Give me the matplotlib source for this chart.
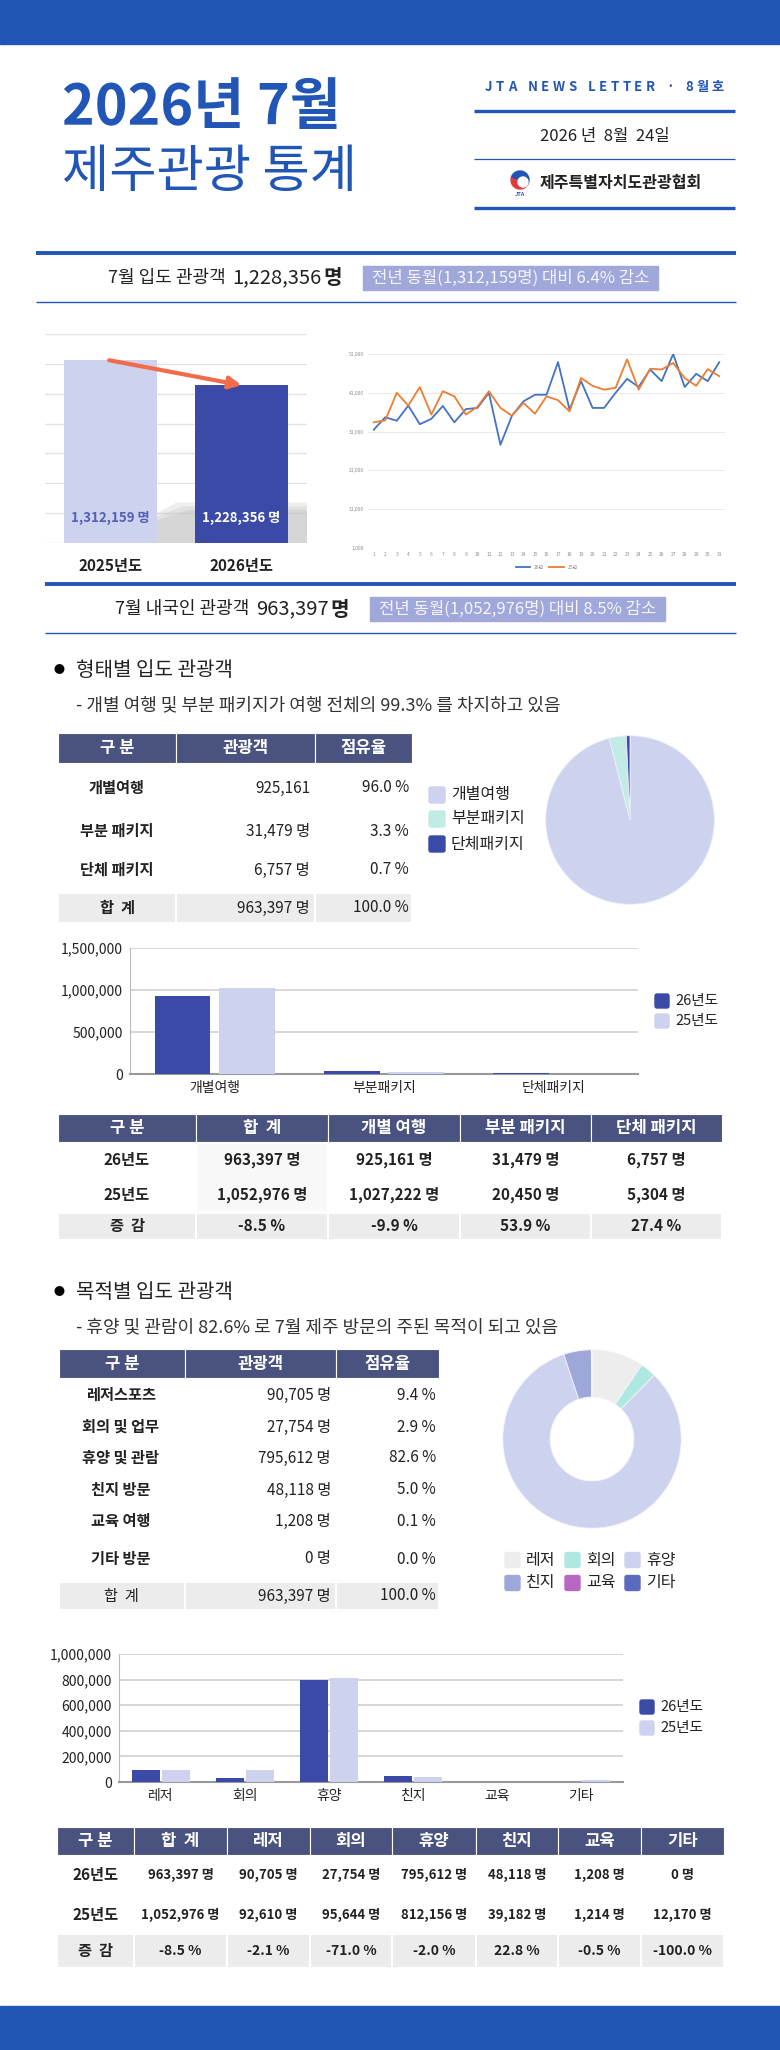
import matplotlib.pyplot as plt
from matplotlib.patches import Rectangle, FancyBboxPatch, Wedge, Polygon
from matplotlib.ticker import FuncFormatter

plt.rcParams['font.family'] = ['Noto Sans CJK KR', 'DejaVu Sans']

# 데이터
years = ['2025년도', '2026년도']
arrivals = [1312159, 1228356]

days = list(range(1, 32))
daily_26 = [31500, 34700, 33800, 37700, 32900, 34300, 37600, 33400, 36800, 37100,
            41000, 27600, 35100, 38800, 40500, 40500, 48900, 36700, 44000, 37100,
            37100, 41000, 44600, 42500, 47000, 44000, 51000, 42500, 45900, 44000, 48900]
daily_25 = [33400, 33900, 41000, 37700, 42500, 35400, 41400, 40100, 35400, 37400,
            41400, 37100, 35100, 38400, 35600, 40100, 39100, 36200, 44800, 42800,
            41800, 42300, 49600, 41800, 47200, 47000, 48700, 44800, 42800, 47100, 45300]

domestic_26 = 963397
domestic_25 = 1052976

type_short = ['개별여행', '부분패키지', '단체패키지']
type_rows = ['개별여행', '부분 패키지', '단체 패키지']
type_heads = ['개별 여행', '부분 패키지', '단체 패키지']
type_26 = [925161, 31479, 6757]
type_25 = [1027222, 20450, 5304]

purpose_short = ['레저', '회의', '휴양', '친지', '교육', '기타']
purpose_rows = ['레저스포츠', '회의 및 업무', '휴양 및 관람', '친지 방문', '교육 여행', '기타 방문']
purpose_26 = [90705, 27754, 795612, 48118, 1208, 0]
purpose_25 = [92610, 95644, 812156, 39182, 1214, 12170]

# 색상
BLUE = '#2155b6'
NAVY = '#3a4aa6'
LAV = '#cdd2ef'
HEAD = '#4a5280'
ROWBG = '#ececec'
HILITE = '#a0a8da'
TXT = '#222222'
W, H = 780, 2050

fig = plt.figure(figsize=(7.8, 20.5), dpi=100)
bg = fig.add_axes([0, 0, 1, 1])
bg.set_xlim(0, W)
bg.set_ylim(H, 0)
bg.axis('off')
renderer = fig.canvas.get_renderer()


def px_axes(x0, y0, w, h):
    ax = fig.add_axes([x0 / W, 1 - (y0 + h) / H, w / W, h / H])
    ax.patch.set_alpha(0)
    return ax


def hline(x0, x1, y, lw, color=BLUE):
    bg.plot([x0, x1], [y, y], color=color, lw=lw, solid_capstyle='butt')


def text_width(t):
    e = t.get_window_extent(renderer=renderer)
    return e.x1 - e.x0


def text_right_end(t):
    # 텍스트 오른쪽 끝 (픽셀 = 데이터 단위)
    return t.get_window_extent(renderer=renderer).x1


# 상단 / 하단 띠
bg.add_patch(Rectangle((0, 0), W, 44, color=BLUE))
bg.add_patch(Rectangle((0, 2006), W, 44, color=BLUE))

# 제목
bg.text(62, 108, '2026년 7월', fontsize=40, fontweight='heavy', color=BLUE, va='center')
bg.text(62, 172, '제주관광 통계', fontsize=37, fontweight='light', color=BLUE, va='center')

# 뉴스레터 표기 (자간 넓게, 485~724 px)
nl = 'JTA NEWS LETTER · 8월호'
chars = [bg.text(0, 87, ch, fontsize=9.5, fontweight='bold', color=BLUE, va='center')
         for ch in nl]
widths = [text_width(t) if ch != ' ' else 4 for t, ch in zip(chars, nl)]
track = (724 - 485 - sum(widths)) / (len(nl) - 1)
x = 485
for t, w in zip(chars, widths):
    t.set_x(x)
    x += w + track
hline(474, 735, 111, 2.4)
bg.text(605, 136, '2026 년  8월  24일', fontsize=12, color=TXT, ha='center', va='center')
hline(474, 735, 159, 0.9)
# 로고
bg.add_patch(Wedge((520, 180), 9, 20, 200, color='#e03a3e'))
bg.add_patch(Wedge((520, 180), 9, 200, 380, color=BLUE))
bg.add_patch(Wedge((523, 182), 5, 0, 360, color='white'))
bg.text(520, 194, 'JTA', fontsize=4, fontweight='bold', style='italic', color=BLUE, ha='center', va='center')
bg.text(540, 183, '제주특별자치도관광협회', fontsize=11.5, fontweight='bold', color=TXT, va='center')
hline(474, 735, 208, 2.4)


def summary(y, x0, label, number, note, box_x0, box_x1, line_x0):
    hline(line_x0, 736, y - 25, 2.8)
    hline(line_x0, 736, y + 24, 1.0)
    t = bg.text(x0, y, label, fontsize=13, color=TXT, va='center')
    t = bg.text(text_right_end(t) + 7, y, f'{number:,}', fontsize=14.5, color=TXT, va='center')
    bg.text(text_right_end(t) + 1, y, '명', fontsize=14.5, fontweight='bold', color=TXT, va='center')
    bg.add_patch(Rectangle((box_x0, y - 12), box_x1 - box_x0, 24, color=HILITE))
    bg.text((box_x0 + box_x1) / 2, y, note, fontsize=12, color='#f4f5ff', ha='center', va='center')


change1 = (arrivals[1] / arrivals[0] - 1) * 100
summary(278, 108, '7월 입도 관광객', arrivals[1],
        f'전년 동월({arrivals[0]:,}명) 대비 {abs(change1):.1f}% 감소', 363, 658, 36)
change2 = (domestic_26 / domestic_25 - 1) * 100
summary(609, 115, '7월 내국인 관광객', domestic_26,
        f'전년 동월({domestic_25:,}명) 대비 {abs(change2):.1f}% 감소', 370, 665, 45)

# 연도별 입도 관광객 막대
ax = px_axes(45, 334, 262, 209)
ax.bar([0, 1], arrivals, width=0.71, color=[LAV, NAVY], zorder=3)
for k, a in enumerate([0.25, 0.25, 0.3]):
    ax.add_patch(Polygon([(0.355, 700000), (0.355, 800000 - k * 12000), (0.5 + k * 0.05, 835000 - k * 12000),
                          (1.5, 835000 - k * 12000), (1.5, 700000)],
                         closed=True, color='#bdbdbd', alpha=a, lw=0, zorder=2))
ax.set_ylim(700000, 1400000)
ax.set_xlim(-0.5, 1.5)
ax.set_yticks(range(700000, 1400001, 100000))
ax.yaxis.grid(True, color='#e3e3e3', lw=1, zorder=0)
ax.tick_params(left=False, labelleft=False, bottom=False)
ax.set_xticks([0, 1])
ax.set_xticklabels(years, fontsize=11, fontweight='bold', color=TXT)
ax.tick_params(axis='x', pad=7)
for s in ax.spines.values():
    s.set_visible(False)
for i, v in enumerate(arrivals):
    ax.text(i, 785000, f'{v:,} 명', ha='center', va='center', fontsize=9.5, fontweight='bold',
            color='#5261b5' if i == 0 else 'white', zorder=4)
ax.annotate('', xy=(1, arrivals[1]), xytext=(-0.01, arrivals[0]),
            arrowprops=dict(arrowstyle='-|>', color='#f26b4b', lw=3, mutation_scale=18,
                            shrinkA=0, shrinkB=0), zorder=5, annotation_clip=False)

# 일별 추이
ax = px_axes(368, 354, 357, 194)
ax.plot(days, daily_26, color='#4472c4', lw=1.3, label='26년')
ax.plot(days, daily_25, color='#ed7d31', lw=1.3, label='25년')
ax.set_ylim(1000, 51000)
ax.set_xlim(0.5, 31.5)
ax.set_yticks(range(1000, 51001, 10000))
ax.yaxis.set_major_formatter(FuncFormatter(lambda v, p: f'{int(v):,}'))
ax.set_xticks(days)
ax.yaxis.grid(True, color='#e6e6e6', lw=0.6)
ax.tick_params(length=0, labelsize=3.5, labelcolor='#8c8c8c', pad=3)
for s in ax.spines.values():
    s.set_visible(False)
ax.legend(loc='upper center', bbox_to_anchor=(0.5, -0.065), ncol=2, frameon=False,
          fontsize=3.5, handlelength=3, labelcolor='#8c8c8c', columnspacing=1)


def section(y, title, sub):
    bg.text(59, y, '●', fontsize=8, color='black', ha='center', va='center')
    bg.text(76, y, title, fontsize=14.5, color=TXT, va='center')
    bg.text(76, y + 35, sub, fontsize=13, color='#333333', va='center')


def header_row(edges, y0, h, labels, fs=12):
    for i, lab in enumerate(labels):
        bg.add_patch(Rectangle((edges[i], y0), edges[i + 1] - edges[i], h,
                               facecolor=HEAD, edgecolor='white', lw=0.8))
        bg.text((edges[i] + edges[i + 1]) / 2, y0 + h / 2, lab, color='white', fontsize=fs,
                fontweight='bold', ha='center', va='center')


def band(edges, y0, h, color=ROWBG):
    for i in range(len(edges) - 1):
        bg.add_patch(Rectangle((edges[i], y0), edges[i + 1] - edges[i], h,
                               facecolor=color, edgecolor='white', lw=1.5))


def mini_legend(x, y, color, label, size=15, fs=11):
    bg.add_patch(FancyBboxPatch((x + 2, y - size / 2 + 2), size - 4, size - 4,
                                boxstyle='round,pad=2', color=color))
    bg.text(x + size + 6, y, label, fontsize=fs, color=TXT, va='center')


# 형태별
section(670, '형태별 입도 관광객',
        f'- 개별 여행 및 부분 패키지가 여행 전체의 {(type_26[0] + type_26[1]) / sum(type_26) * 100:.1f}% 를 차지하고 있음')

e1 = [58, 176, 315, 412]
header_row(e1, 733, 30, ['구 분', '관광객', '점유율'])
row_y = [788, 831, 870]
suffix = ['', ' 명', ' 명']
for name, v, sfx, y in zip(type_rows, type_26, suffix, row_y):
    bg.text(117, y, name, fontsize=11, fontweight='bold', color=TXT, ha='center', va='center')
    bg.text(310, y, f'{v:,}{sfx}', fontsize=11, color=TXT, ha='right', va='center')
    bg.text(409, y, f'{v / sum(type_26) * 100:.1f} %', fontsize=11, color=TXT, ha='right', va='center')
band(e1, 893, 30)
bg.text(117, 908, '합  계', fontsize=11, fontweight='bold', color=TXT, ha='center', va='center')
bg.text(310, 908, f'{sum(type_26):,} 명', fontsize=11, color=TXT, ha='right', va='center')
bg.text(409, 908, '100.0 %', fontsize=11, color=TXT, ha='right', va='center')

pie_colors = [LAV, '#c3ebe5', NAVY]
ax = px_axes(630 - 86, 820 - 86, 172, 172)
ax.pie(type_26, colors=pie_colors, startangle=90, counterclock=False,
       wedgeprops=dict(edgecolor='#eef0fb', linewidth=0.6))
ax.set_xlim(-1.02, 1.02)
ax.set_ylim(-1.02, 1.02)
for lab, c, y in zip(type_short, pie_colors, [795, 819, 844]):
    mini_legend(429, y, c, lab, size=16, fs=11.5)

# 형태별 비교 막대
ax = px_axes(130, 948, 508, 126)
xs = range(len(type_short))
ax.bar([x - 0.19 for x in xs], type_26, width=0.33, color=NAVY, zorder=3)
ax.bar([x + 0.19 for x in xs], type_25, width=0.33, color=LAV, zorder=3)
ax.set_xlim(-0.5, 2.5)
ax.set_ylim(0, 1500000)
ax.set_yticks(range(0, 1500001, 500000))
ax.yaxis.set_major_formatter(FuncFormatter(lambda v, p: f'{int(v):,}'))
ax.yaxis.grid(True, color='#cfcfcf', lw=1.2, zorder=0)
ax.set_xticks(list(xs))
ax.set_xticklabels(type_short)
ax.tick_params(length=0, labelsize=10, labelcolor=TXT, pad=5)
for k in ['top', 'right']:
    ax.spines[k].set_visible(False)
ax.spines['left'].set_color('#bbbbbb')
ax.spines['bottom'].set_color('#999999')
ax.spines['bottom'].set_linewidth(1.5)
mini_legend(655, 1001, NAVY, '26년도', size=14, fs=10.5)
mini_legend(655, 1021, LAV, '25년도', size=14, fs=10.5)

# 형태별 비교 표
e2 = [58, 196, 328, 460, 591, 722]
header_row(e2, 1114, 28, ['구 분', '합  계'] + type_heads)
bg.add_patch(Rectangle((e2[1], 1143), e2[2] - e2[1], 69, facecolor='#f8f8f8', edgecolor='white', lw=1.5))
for lab, vals, y in [('26년도', type_26, 1160), ('25년도', type_25, 1195)]:
    bg.text((e2[0] + e2[1]) / 2, y, lab, fontsize=11, fontweight='bold', color=TXT, ha='center', va='center')
    for i, v in enumerate([sum(vals)] + vals):
        bg.text((e2[i + 1] + e2[i + 2]) / 2, y, f'{v:,} 명', fontsize=11, fontweight='bold',
                color=TXT, ha='center', va='center')
band(e2, 1213, 27)
bg.text((e2[0] + e2[1]) / 2, 1226, '증  감', fontsize=11, fontweight='bold', color=TXT, ha='center', va='center')
for i, (a, b) in enumerate(zip([sum(type_26)] + type_26, [sum(type_25)] + type_25)):
    bg.text((e2[i + 1] + e2[i + 2]) / 2, 1226, f'{(a / b - 1) * 100:.1f} %', fontsize=11,
            fontweight='bold', color=TXT, ha='center', va='center')

# 목적별
section(1292, '목적별 입도 관광객',
        f'- 휴양 및 관람이 {purpose_26[2] / sum(purpose_26) * 100:.1f}% 로 7월 제주 방문의 주된 목적이 되고 있음')

e3 = [59, 185, 336, 439]
header_row(e3, 1349, 29, ['구 분', '관광객', '점유율'])
row_y3 = [1395, 1427, 1458, 1490, 1521, 1559]
for name, v, y in zip(purpose_rows, purpose_26, row_y3):
    bg.text(121, y, name, fontsize=11, fontweight='bold', color=TXT, ha='center', va='center')
    bg.text(331, y, f'{v:,} 명', fontsize=11, color=TXT, ha='right', va='center')
    bg.text(436, y, f'{v / sum(purpose_26) * 100:.1f} %', fontsize=11, color=TXT, ha='right', va='center')
band(e3, 1582, 28)
bg.text(121, 1596, '합  계', fontsize=11, color=TXT, ha='center', va='center')
bg.text(331, 1596, f'{sum(purpose_26):,} 명', fontsize=11, color=TXT, ha='right', va='center')
bg.text(436, 1596, '100.0 %', fontsize=11, color=TXT, ha='right', va='center')

donut_colors = ['#ededed', '#aee8e0', LAV, '#9ea8d8', '#b868c0', '#5a6abf']
ax = px_axes(592 - 91, 1439 - 91, 182, 182)
ax.pie(purpose_26, colors=donut_colors, startangle=90, counterclock=False,
       wedgeprops=dict(width=0.53, edgecolor='#f4f5fc', linewidth=0.6))
ax.set_xlim(-1.02, 1.02)
ax.set_ylim(-1.02, 1.02)
for i, (lab, c) in enumerate(zip(purpose_short, donut_colors)):
    mini_legend(505 + 60 * (i % 3), 1560 + 23 * (i // 3), c, lab, size=15, fs=11.5)

# 목적별 비교 막대
ax = px_axes(119, 1654, 504, 128)
xs = range(len(purpose_short))
ax.bar([x - 0.18 for x in xs], purpose_26, width=0.33, color=NAVY, zorder=3)
ax.bar([x + 0.18 for x in xs], purpose_25, width=0.33, color=LAV, zorder=3)
ax.set_xlim(-0.5, 5.5)
ax.set_ylim(0, 1000000)
ax.set_yticks(range(0, 1000001, 200000))
ax.yaxis.set_major_formatter(FuncFormatter(lambda v, p: f'{int(v):,}'))
ax.yaxis.grid(True, color='#cfcfcf', lw=1.2, zorder=0)
ax.set_xticks(list(xs))
ax.set_xticklabels(purpose_short)
ax.tick_params(length=0, labelsize=10, labelcolor=TXT, pad=5)
for k in ['top', 'right']:
    ax.spines[k].set_visible(False)
ax.spines['left'].set_color('#bbbbbb')
ax.spines['bottom'].set_color('#999999')
ax.spines['bottom'].set_linewidth(1.5)
mini_legend(640, 1707, NAVY, '26년도', size=14, fs=10.5)
mini_legend(640, 1728, LAV, '25년도', size=14, fs=10.5)

# 목적별 비교 표
e4 = [57, 134, 227, 310, 392, 476, 558, 641, 724]
header_row(e4, 1827, 28, ['구 분', '합  계'] + purpose_short)
for lab, vals, y in [('26년도', purpose_26, 1875), ('25년도', purpose_25, 1915)]:
    bg.text((e4[0] + e4[1]) / 2, y, lab, fontsize=11, fontweight='bold', color=TXT, ha='center', va='center')
    for i, v in enumerate([sum(vals)] + vals):
        bg.text((e4[i + 1] + e4[i + 2]) / 2, y, f'{v:,} 명', fontsize=9.5, fontweight='bold',
                color=TXT, ha='center', va='center')
band(e4, 1934, 34)
bg.text((e4[0] + e4[1]) / 2, 1951, '증  감', fontsize=11, fontweight='bold', color=TXT, ha='center', va='center')
for i, (a, b) in enumerate(zip([sum(purpose_26)] + purpose_26, [sum(purpose_25)] + purpose_25)):
    bg.text((e4[i + 1] + e4[i + 2]) / 2, 1951, f'{(a / b - 1) * 100:.1f} %', fontsize=10,
            fontweight='bold', color=TXT, ha='center', va='center')

fig.savefig('out.png', dpi=100)
